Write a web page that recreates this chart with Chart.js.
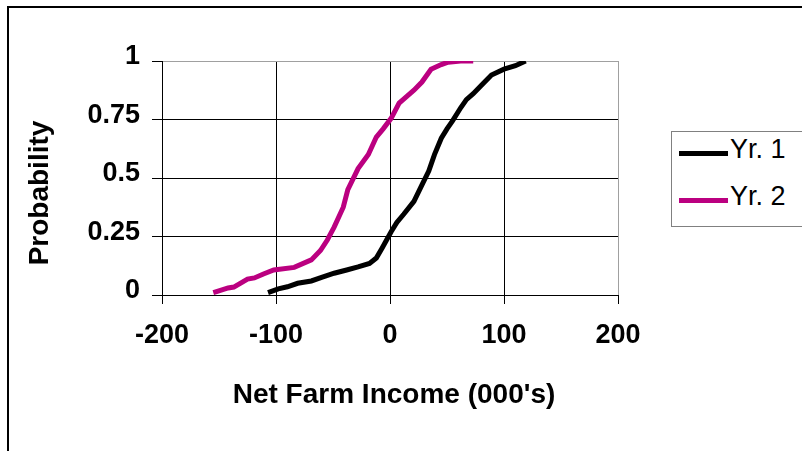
<!DOCTYPE html>
<html>
<head>
<meta charset="utf-8">
<script src="https://cdn.jsdelivr.net/npm/chart.js@4"></script>
<style>
    html, body { margin: 0; padding: 0; background: #fff; overflow: hidden; }
    #wrap { position: relative; width: 802px; height: 451px; }
    #frame {
        position: absolute; left: 7px; top: 6px; width: 820px; height: 470px;
        border: 2px solid #000; box-sizing: border-box;
    }
    #legend {
        position: absolute; left: 671px; top: 131px; width: 140px; height: 96px;
        border: 1px solid #808080; box-sizing: border-box; background: #fff;
        font-family: "Liberation Sans", Arial, sans-serif; font-size: 27px; color: #000;
    }
    .leg-line { position: absolute; left: 7px; width: 49px; height: 5px; }
    .leg-text { position: absolute; left: 58px; line-height: 27px; white-space: nowrap; }
    canvas { position: absolute; left: 0; top: 0; }
</style>
</head>
<body>
<div id="wrap">
    <div id="frame"></div>
    <canvas id="cdfChart" width="802" height="451"></canvas>
    <div id="legend"></div>
</div>
<script>
// ==================== DATA ====================
const seriesNames = ['Yr. 1', 'Yr. 2'];
const seriesColors = ['#000000', '#bb0080'];

// Yr. 1 cumulative distribution (Net Farm Income in 000's, probability)
const yr1Income = [-107, -98, -90, -81, -69, -60, -49, -38, -28, -18, -12, -7, -3, 1, 6, 12, 21, 29, 34, 39, 45, 50, 55, 62, 67, 73, 80, 89, 100, 110, 119];
const yr1Prob = [0.01, 0.026, 0.035, 0.05, 0.06, 0.075, 0.093, 0.107, 0.12, 0.135, 0.158, 0.2, 0.235, 0.27, 0.31, 0.345, 0.4, 0.48, 0.53, 0.6, 0.67, 0.71, 0.745, 0.8, 0.835, 0.86, 0.895, 0.94, 0.965, 0.98, 1.0];

// Yr. 2 cumulative distribution
const yr2Income = [-155, -142, -137, -125, -119, -111, -102, -84, -69, -61, -55, -49, -41, -37, -28, -19, -12, -6, 1, 8, 15, 21, 28, 36, 45, 51, 62, 73];
const yr2Prob = [0.01, 0.03, 0.034, 0.068, 0.073, 0.09, 0.107, 0.118, 0.15, 0.19, 0.235, 0.29, 0.375, 0.45, 0.54, 0.6, 0.675, 0.71, 0.755, 0.82, 0.85, 0.875, 0.91, 0.965, 0.985, 0.995, 1.0, 1.0];

const xTicks = [-200, -100, 0, 100, 200];
const yTicks = [0, 0.25, 0.5, 0.75, 1];
const xTitle = "Net Farm Income (000's)";
const yTitle = 'Probability';

function toPoints(xs, ys) {
    return xs.map((x, i) => ({ x: x, y: ys[i] }));
}

// ==================== LEGEND (html) ====================
const legendEl = document.getElementById('legend');
const legendTops = [4, 51];
seriesNames.forEach((name, i) => {
    const line = document.createElement('div');
    line.className = 'leg-line';
    line.style.top = (legendTops[i] + 15) + 'px';
    line.style.background = seriesColors[i];
    legendEl.appendChild(line);
    const txt = document.createElement('div');
    txt.className = 'leg-text';
    txt.style.top = legendTops[i] + 'px';
    txt.textContent = name;
    legendEl.appendChild(txt);
});

// ==================== AXIS TITLES ====================
const axisTitles = {
    id: 'axisTitles',
    afterDraw(chart) {
        const c = chart.ctx;
        c.save();
        c.fillStyle = '#000';
        c.font = 'bold 28px "Liberation Sans", Arial, sans-serif';
        c.textAlign = 'center';
        c.textBaseline = 'alphabetic';
        c.fillText(xTitle, 394, 403);
        c.translate(48, 193);
        c.rotate(-Math.PI / 2);
        c.fillText(yTitle, 0, 0);
        c.restore();
    }
};

// ==================== CHART ====================
const tickFont = { family: '"Liberation Sans", Arial, sans-serif', size: 27, weight: 'bold' };

const ctx = document.getElementById('cdfChart').getContext('2d');
const cdfChart = new Chart(ctx, {
    type: 'line',
    data: {
        datasets: [
            {
                label: seriesNames[0],
                data: toPoints(yr1Income, yr1Prob),
                borderColor: seriesColors[0],
                borderWidth: 5,
                pointRadius: 0,
                tension: 0,
                fill: false
            },
            {
                label: seriesNames[1],
                data: toPoints(yr2Income, yr2Prob),
                borderColor: seriesColors[1],
                borderWidth: 5,
                pointRadius: 0,
                tension: 0,
                fill: false
            }
        ]
    },
    options: {
        responsive: false,
        animation: false,
        devicePixelRatio: 1,
        layout: { padding: { left: 0, right: 184, top: 61, bottom: 0 } },
        plugins: {
            legend: { display: false },
            tooltip: { enabled: false }
        },
        scales: {
            x: {
                type: 'linear',
                min: -200,
                max: 200,
                afterFit: (scale) => { scale.height = 156; },
                afterBuildTicks: (scale) => { scale.ticks = xTicks.map(v => ({ value: v })); },
                grid: {
                    color: (c) => (c.tick && c.tick.value === 200 ? '#a0a0a0' : '#000'),
                    tickColor: '#000',
                    tickLength: 9,
                    lineWidth: 1
                },
                border: { color: '#000', width: 1 },
                ticks: {
                    color: '#000', font: tickFont, padding: 15, maxRotation: 0,
                    callback: (v) => String(v)
                }
            },
            y: {
                type: 'linear',
                min: 0,
                max: 1,
                afterFit: (scale) => { scale.width = 162; },
                afterBuildTicks: (scale) => { scale.ticks = yTicks.map(v => ({ value: v })); },
                grid: {
                    color: (c) => (c.tick && c.tick.value === 1 ? '#a0a0a0' : '#000'),
                    tickColor: '#000',
                    tickLength: 10,
                    lineWidth: 1
                },
                border: { color: '#000', width: 1 },
                ticks: {
                    color: '#000', font: tickFont, padding: 12, labelOffset: -4,
                    callback: (v) => String(v)
                }
            }
        }
    },
    plugins: [axisTitles]
});
</script>
</body>
</html>
